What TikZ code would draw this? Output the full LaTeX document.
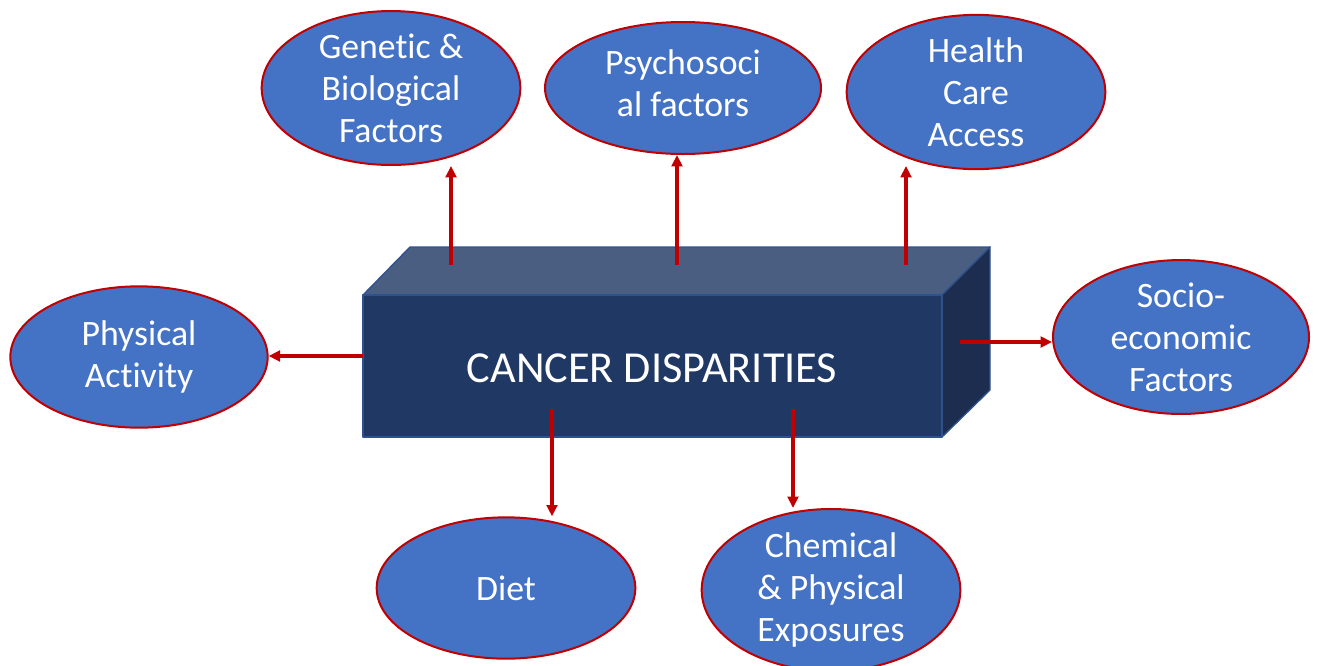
\documentclass[tikz,border=0pt]{standalone}
\usepackage{fontspec}
\setmainfont{Carlito}[Ligatures=NoCommon, RawFeature={-calt}]
\usepackage{tikz}
\usetikzlibrary{arrows.meta,positioning,shapes.geometric}
\definecolor{cd@ellipse}{RGB}{68,114,196}
\definecolor{cd@red}{RGB}{192,0,0}
\definecolor{cd@front}{RGB}{32,56,100}
\definecolor{cd@top}{RGB}{74,94,130}
\definecolor{cd@side}{RGB}{28,45,79}
\definecolor{cd@edge}{RGB}{47,82,143}
\tikzset{
  cancer/.style={
    x=0.75pt, y=-0.75pt,
    every node/.style={font=\fontsize{26.8}{31.5}\selectfont, text=white, align=center}
  },
  factor/.style={                  % factor ellipse
    ellipse, draw=cd@red, line width=1.5pt,
    fill=cd@ellipse,
    inner sep=0pt,
    minimum width=194pt, minimum height=106pt
  },
  face/.style={draw=cd@edge, line width=1pt, line join=round},
  link/.style={-{Triangle[length=8.5pt,width=8pt]}, line width=2.8pt, draw=cd@red}
}

\begin{document}
\begin{tikzpicture}[cancer]
\useasboundingbox (0,0) rectangle (1319,665);

% Block in the middle
\draw[face, fill=cd@top] (363,295) -- (410,247) -- (990,247) -- (942,295) -- cycle;
\draw[face, fill=cd@side] (942,295) -- (990,247) -- (990,390) -- (942,437) -- cycle;
\draw[face, fill=cd@front] (363,295) rectangle (942,437);
\node[font=\fontsize{33.2}{40}\selectfont] (block) at (652,368) {CANCER DISPARITIES};

% Where the arrows leave the block
\coordinate (gout) at (451,265);
\coordinate (pout) at (677,265);
\coordinate (hout) at (906,265);
\coordinate (sout) at (960,342);
\coordinate (aout) at (363,356);
\coordinate (dout) at (552,409);
\coordinate (cout) at (793,409);

% Factors around it
\node[factor] (genetic) at (391,88) {Genetic \&\\Biological\\Factors};
\node[factor, minimum width=207pt, minimum height=99pt] (psycho) at (683,88) {};
\node (psycholabel) at (683,83) {Psychosoci\\al factors};
\node[factor, minimum height=105pt] (health) at (976,92) {Health\\Care\\Access};
\node[factor, minimum width=192pt, minimum height=108pt] (socio) at (1181,337) {Socio-\\economic\\Factors};
\node[factor, minimum width=193pt] (activity) at (139,357) {Physical\\Activity};
\node[factor] (diet) at (506,588) {Diet};
\node[factor, minimum height=107pt] (chemical) at (831,590) {Chemical\\\& Physical\\Exposures};

% Arrows
\draw[link] (gout) -- (gout |- genetic.south);
\draw[link] (pout) -- (pout |- psycho.south);
\draw[link] (hout) -- (hout |- genetic.south);
\draw[link] (sout) -- (sout -| socio.west);
\draw[link] (aout) -- (aout -| activity.east);
\draw[link] (dout) -- (dout |- diet.north);
\draw[link] (cout) -- (cout |- chemical.north);
\end{tikzpicture}
\end{document}
